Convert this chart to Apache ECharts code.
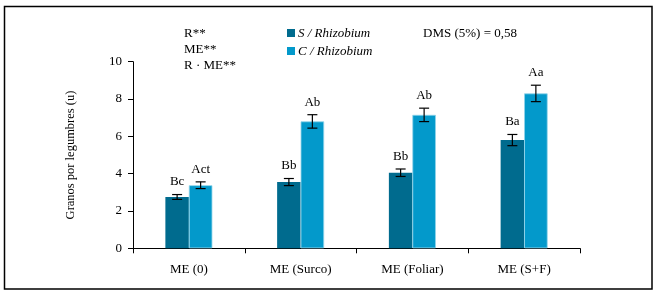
<!DOCTYPE html>
<html>
<head>
<meta charset="utf-8">
<script src="https://cdn.jsdelivr.net/npm/echarts@6/dist/echarts.min.js"></script>
<style>html,body{margin:0;padding:0;background:#fff;}#c{width:657px;height:296px;}</style>
</head>
<body>
<div id="c"></div>
<script>
var categories = ['ME (0)', 'ME (Surco)', 'ME (Foliar)', 'ME (S+F)'];
var seriesNames = ['S / Rhizobium', 'C / Rhizobium'];
var sinValues = [2.75, 3.55, 4.05, 5.8];
var conValues = [3.38, 6.8, 7.15, 8.3];
var sinErrors = [0.13, 0.19, 0.2, 0.3];
var conErrors = [0.18, 0.36, 0.36, 0.44];
var sinLetters = ['Bc', 'Bb', 'Bb', 'Ba'];
var conLetters = ['Act', 'Ab', 'Ab', 'Aa'];
var yTicks = [0, 2, 4, 6, 8, 10];
var statsLines = ['R**', 'ME**', 'R \u00B7 ME**'];
var dmsText = 'DMS (5%) = 0,58';
var yTitle = 'Granos por legumbres (u)';

var FONT = '"Liberation Serif", "DejaVu Serif", serif';
var DARK = '#006b8e';
var LIGHT = '#0399cb';
var BAR_W = 23.5;

var chart = echarts.init(document.getElementById('c'), null, {renderer: 'canvas'});

function errSeries(values, errors, letters, sign) {
  var data = values.map(function (v, i) { return [i, v, errors[i], letters[i]]; });
  return {
    type: 'custom',
    z: 10,
    silent: true,
    data: data,
    encode: {x: 0, y: 1},
    renderItem: function (params, api) {
      var i = api.value(0), v = api.value(1), e = api.value(2);
      var c = api.coord([i, v]);
      var x = c[0] + sign * BAR_W / 2;
      var top = api.coord([i, v + e])[1];
      var bot = api.coord([i, v - e])[1];
      var hw = 5;
      var st = {stroke: '#000', lineWidth: 1.2};
      return {
        type: 'group',
        children: [
          {type: 'line', shape: {x1: x, y1: top, x2: x, y2: bot}, style: st},
          {type: 'line', shape: {x1: x - hw, y1: top, x2: x + hw, y2: top}, style: st},
          {type: 'line', shape: {x1: x - hw, y1: bot, x2: x + hw, y2: bot}, style: st},
          {type: 'text', x: x, y: top - 6, style: {text: data[params.dataIndex][3], font: '13px ' + FONT, fill: '#000', textAlign: 'center', textVerticalAlign: 'bottom'}}
        ]
      };
    }
  };
}

var option = {
  animation: false,
  backgroundColor: '#fff',
  grid: {left: 133, right: 77, top: 61.7, bottom: 47.7, containLabel: false},
  legend: {show: false},
  xAxis: {
    type: 'category',
    data: categories,
    axisLine: {lineStyle: {color: '#000', width: 1}},
    axisTick: {show: true, alignWithLabel: false, length: 5, inside: false, lineStyle: {color: '#000'}},
    axisLabel: {color: '#000', fontFamily: FONT, fontSize: 13, margin: 15}
  },
  yAxis: {
    type: 'value',
    min: yTicks[0],
    max: yTicks[yTicks.length - 1],
    interval: 2,
    name: yTitle,
    nameLocation: 'middle',
    nameGap: 56,
    nameTextStyle: {color: '#000', fontFamily: FONT, fontSize: 12.5},
    axisLine: {show: true, lineStyle: {color: '#000', width: 1}},
    axisTick: {show: true, length: 5, lineStyle: {color: '#000'}},
    axisLabel: {color: '#000', fontFamily: FONT, fontSize: 13, margin: 11},
    splitLine: {show: false}
  },
  series: [
    {name: seriesNames[0], type: 'bar', data: sinValues, barWidth: BAR_W, barGap: '0%',
      itemStyle: {color: DARK}},
    {name: seriesNames[1], type: 'bar', data: conValues, barWidth: BAR_W, barGap: '0%',
      itemStyle: {color: LIGHT, borderColor: '#8fd3ea', borderWidth: 0.8}},
    errSeries(sinValues, sinErrors, sinLetters, -1),
    errSeries(conValues, conErrors, conLetters, 1)
  ],
  graphic: [
    {type: 'rect', shape: {x: 4.5, y: 6.5, width: 647.5, height: 282.5}, style: {fill: null, stroke: '#000', lineWidth: 1.5}, silent: true},
    {type: 'text', left: 184, top: 27, style: {text: statsLines[0], font: '13px ' + FONT, fill: '#000'}},
    {type: 'text', left: 184, top: 43, style: {text: statsLines[1], font: '13px ' + FONT, fill: '#000'}},
    {type: 'text', left: 184, top: 59, style: {text: statsLines[2], font: '13px ' + FONT, fill: '#000'}},
    {type: 'rect', shape: {x: 287, y: 29, width: 8, height: 8}, style: {fill: DARK}},
    {type: 'rect', shape: {x: 287, y: 47, width: 8, height: 8}, style: {fill: LIGHT}},
    {type: 'text', left: 298, top: 27, style: {text: seriesNames[0], font: 'italic 13px ' + FONT, fill: '#000'}},
    {type: 'text', left: 298, top: 45, style: {text: seriesNames[1], font: 'italic 13px ' + FONT, fill: '#000'}},
    {type: 'text', left: 423, top: 27, style: {text: dmsText, font: '13px ' + FONT, fill: '#000'}}
  ]
};
chart.setOption(option);
</script>
</body>
</html>
